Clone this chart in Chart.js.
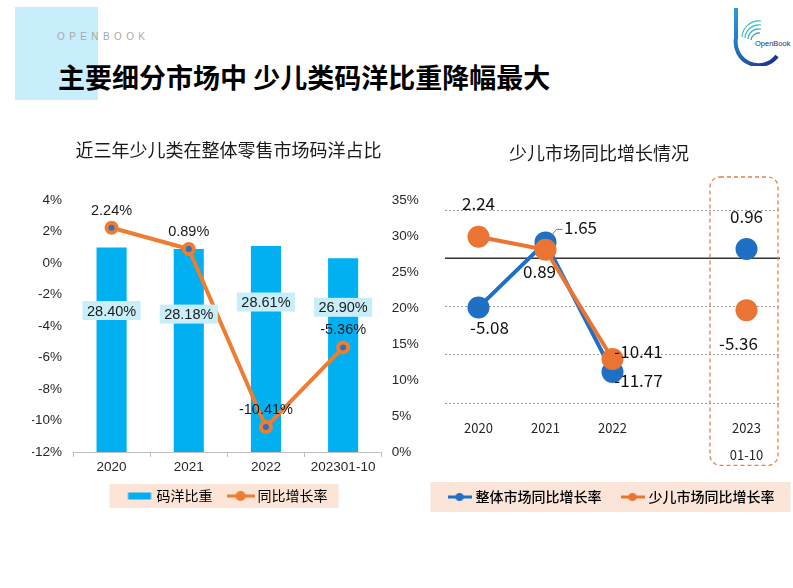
<!DOCTYPE html>
<html>
<head>
<meta charset="utf-8">
<script src="https://cdn.jsdelivr.net/npm/chart.js@4.4.1/dist/chart.umd.min.js"></script>
<style>
  html, body { margin: 0; padding: 0; background: #fff; }
  #page { position: relative; width: 793px; height: 588px; overflow: hidden; background: #fff; }
  #tag { position: absolute; left: 15px; top: 7px; width: 83px; height: 93px; background: #c8edfb; }
  #brand { position: absolute; left: 57px; top: 31px; font: 10px "Liberation Sans", Arial, sans-serif; letter-spacing: 4.4px; color: #a8a8a8; }
  #headline { position: absolute; left: 58px; top: 61px; font: bold 27px/32px "Noto Sans CJK SC", sans-serif; color: #000; white-space: nowrap; }
  #logo { position: absolute; left: 731px; top: 6px; }
  #left { position: absolute; left: 10px; top: 130px; }
  #right { position: absolute; left: 405px; top: 130px; }
</style>
</head>
<body>
<div id="page">
  <div id="tag"></div>
  <div id="brand">OPENBOOK</div>
  <div id="headline">主要细分市场中 少儿类码洋比重降幅最大</div>
  <svg id="logo" width="62" height="60" viewBox="0 0 62 60">
    <defs>
      <linearGradient id="lg" x1="0" y1="0" x2="1" y2="1">
        <stop offset="0" stop-color="#2b9be0"/>
        <stop offset="1" stop-color="#1a2c86"/>
      </linearGradient>
    </defs>
    <path d="M5 2 V32 A 23 23 0 0 0 46 50" fill="none" stroke="url(#lg)" stroke-width="4"/>
    <path d="M11 31 A 17 17 0 0 1 30 15" fill="none" stroke="#38bfc4" stroke-width="1.2"/>
    <path d="M14 32 A 14 14 0 0 1 30 19" fill="none" stroke="#38bfc4" stroke-width="1.2"/>
    <path d="M17 33 A 11 11 0 0 1 30 23" fill="none" stroke="#2fa7c9" stroke-width="1.2"/>
    <path d="M20 34 A 8 8 0 0 1 29 27" fill="none" stroke="#2f8fc9" stroke-width="1.2"/>
    <text x="24" y="40" font-size="7.5" font-family="Liberation Sans, Arial, sans-serif" fill="#1b2f6a">OpenBook</text>
  </svg>
  <canvas id="left" width="415" height="390"></canvas>
  <canvas id="right" width="388" height="390"></canvas>
</div>
<script>
// left chart: share of children's books in retail market
const shareYears = ['2020', '2021', '2022', '202301-10'];
const shareValues = [28.40, 28.18, 28.61, 26.90];
const shareGrowth = [2.24, 0.89, -10.41, -5.36];

// right chart: year on year growth
const growthYears = ['2020', '2021', '2022', '', ['2023', '01-10']];
const overallGrowth = [-5.08, 1.65, -11.77, null, 0.96];
const childGrowth = [2.24, 0.89, -10.41, null, -5.36];

const CJK = '"Noto Sans CJK SC", "Noto Sans", sans-serif';
const BAR_BLUE = '#00b0f0';
const LEFT_ORANGE = '#ed7d31';
const DOT_BLUE = '#2e6fc0';
const LINE_BLUE = '#1f6fc5';
const LINE_ORANGE = '#ea7433';

Chart.defaults.font.family = '"Liberation Sans", Arial, sans-serif';
Chart.defaults.color = '#262626';
Chart.defaults.animation = false;

function legendIcon(w, h, draw) {
  const c = document.createElement('canvas');
  c.width = w;
  c.height = h;
  draw(c.getContext('2d'), w, h);
  return c;
}

function lineIcon(color, w, r) {
  return legendIcon(w, 12, (g) => {
    g.strokeStyle = color;
    g.lineWidth = 3;
    g.beginPath();
    g.moveTo(0, 6);
    g.lineTo(w, 6);
    g.stroke();
    g.fillStyle = color;
    g.beginPath();
    g.arc(w / 2, 6, r, 0, Math.PI * 2);
    g.fill();
  });
}

const barIcon = legendIcon(26, 8, (g) => {
  g.fillStyle = BAR_BLUE;
  g.fillRect(1.5, 0.5, 23, 7);
});

// pink panel behind the legend, optional sideways shift of title / legend
const legendPanel = {
  id: 'legendPanel',
  afterLayout(chart, args, opts) {
    if (opts.shift) {
      chart.legend.left += opts.shift;
      chart.legend.right += opts.shift;
    }
    if (opts.titleShift) {
      chart.titleBlock.left += opts.titleShift;
      chart.titleBlock.right += opts.titleShift;
    }
  },
  beforeDraw(chart, args, opts) {
    const lg = chart.legend;
    const pad = lg.options.labels.padding;
    const total = lg.lineWidths[0];
    const start = (lg.left + pad + lg.right - total) / 2;
    const end = start + total - pad;
    const cy = lg.top + pad + 7;
    const ctx = chart.ctx;
    ctx.save();
    ctx.fillStyle = opts.color;
    ctx.fillRect(start - opts.padLeft, cy - opts.padY, end - start + opts.padLeft + opts.padRight, opts.padY * 2);
    ctx.restore();
  }
};

const leftLabels = {
  id: 'leftLabels',
  afterDatasetsDraw(chart, args, opts) {
    const ctx = chart.ctx;
    ctx.save();
    ctx.font = '14.5px "Liberation Sans", Arial, sans-serif';
    ctx.textAlign = 'center';
    ctx.textBaseline = 'middle';
    chart.getDatasetMeta(0).data.forEach((bar, i) => {
      const text = shareValues[i].toFixed(2) + '%';
      const w = ctx.measureText(text).width + 9;
      const y = bar.y + opts.barLabelDrop[i];
      ctx.fillStyle = '#c9eefa';
      ctx.fillRect(bar.x - w / 2, y - 9.5, w, 19);
      ctx.fillStyle = '#1a1a1a';
      ctx.fillText(text, bar.x, y + 1);
    });
    chart.getDatasetMeta(1).data.forEach((pt, i) => {
      ctx.fillStyle = '#1a1a1a';
      ctx.fillText(shareGrowth[i].toFixed(2) + '%', pt.x, pt.y - 17);
    });
    ctx.restore();
  }
};

const growthDecor = {
  id: 'growthDecor',
  beforeDatasetsDraw(chart, args, opts) {
    const {ctx, chartArea} = chart;
    const x = chart.scales.x;
    const y0 = chart.scales.y.getPixelForValue(0);
    ctx.save();
    ctx.strokeStyle = '#333';
    ctx.lineWidth = 1.5;
    ctx.beginPath();
    ctx.moveTo(chartArea.left, y0);
    ctx.lineTo(chartArea.right, y0);
    ctx.stroke();
    // dashed frame round the 2023 column
    const cx = x.getPixelForValue(4);
    ctx.strokeStyle = '#e0824d';
    ctx.lineWidth = 1.3;
    ctx.setLineDash([4, 3]);
    ctx.beginPath();
    ctx.roundRect(cx - 36.5, chartArea.top - 33, 68, chartArea.bottom - chartArea.top + 95, 10);
    ctx.stroke();
    ctx.restore();
  },
  afterDatasetsDraw(chart, args, opts) {
    const ctx = chart.ctx;
    ctx.save();
    ctx.font = '17px ' + CJK;
    ctx.textAlign = 'center';
    ctx.textBaseline = 'middle';
    ctx.fillStyle = '#111';
    opts.offsets.forEach((list, di) => {
      const values = chart.data.datasets[di].data;
      chart.getDatasetMeta(di).data.forEach((pt, i) => {
        if (values[i] == null) return;
        ctx.fillText(values[i].toFixed(2), pt.x + list[i][0], pt.y + list[i][1]);
      });
    });
    const lp = chart.getDatasetMeta(opts.leader[0]).data[opts.leader[1]];
    ctx.strokeStyle = '#777';
    ctx.lineWidth = 1;
    ctx.beginPath();
    ctx.moveTo(lp.x + 6, lp.y - 7);
    ctx.lineTo(lp.x + 11, lp.y - 13);
    ctx.lineTo(lp.x + 17, lp.y - 13);
    ctx.stroke();
    ctx.restore();
  }
};

new Chart(document.getElementById('left'), {
  data: {
    labels: shareYears,
    datasets: [
      {
        type: 'bar',
        label: '码洋比重',
        data: shareValues,
        yAxisID: 'y1',
        backgroundColor: BAR_BLUE,
        barPercentage: 0.39,
        categoryPercentage: 1,
        order: 1
      },
      {
        type: 'line',
        label: '同比增长率',
        data: shareGrowth,
        yAxisID: 'y',
        borderColor: LEFT_ORANGE,
        borderWidth: 4,
        pointRadius: 5,
        pointBorderWidth: 4,
        pointBorderColor: LEFT_ORANGE,
        pointBackgroundColor: DOT_BLUE,
        clip: false,
        order: 0
      }
    ]
  },
  options: {
    responsive: false,
    layout: { padding: { left: 22, right: 0, top: 0, bottom: 7 } },
    scales: {
      x: {
        grid: { drawOnChartArea: false, drawTicks: true, tickLength: 5, color: '#bfbfbf' },
        border: { display: true, color: '#bfbfbf' },
        ticks: { padding: 2, font: { size: 13.5 }, maxRotation: 0 },
        afterFit(s) { s.height = 19; }
      },
      y: {
        position: 'left',
        min: -12,
        max: 4,
        ticks: { stepSize: 2, padding: 11, font: { size: 13.5 }, callback: (v) => v + '%' },
        grid: { display: false, drawTicks: false },
        border: { display: false },
        afterFit(s) { s.width = 41; }
      },
      y1: {
        position: 'right',
        min: 0,
        max: 35,
        ticks: { stepSize: 5, padding: 10, font: { size: 13.5 }, callback: (v) => v + '%' },
        grid: { display: false, drawTicks: false },
        border: { display: false },
        afterFit(s) { s.width = 43.3; }
      }
    },
    plugins: {
      title: {
        display: true,
        text: '近三年少儿类在整体零售市场码洋占比',
        color: '#1a1a1a',
        font: { family: CJK, size: 18, weight: 'normal', lineHeight: 1.2 },
        padding: { top: 9.2, bottom: 39.2 }
      },
      legend: {
        position: 'bottom',
        labels: {
          usePointStyle: true,
          pointStyleWidth: 20,
          padding: 18,
          color: '#404040',
          font: { family: CJK, size: 14 },
          generateLabels: () => [
            { text: '码洋比重', pointStyle: barIcon, fillStyle: BAR_BLUE, strokeStyle: BAR_BLUE, lineWidth: 0, datasetIndex: 0 },
            { text: '同比增长率', pointStyle: lineIcon(LEFT_ORANGE, 28, 5), fillStyle: LEFT_ORANGE, strokeStyle: LEFT_ORANGE, lineWidth: 0, datasetIndex: 1 }
          ]
        }
      },
      tooltip: { enabled: false },
      legendPanel: { color: '#fce4d6', padLeft: 20, padRight: 11, padY: 12 },
      leftLabels: { barLabelDrop: [63, 65, 56, 49] }
    }
  },
  plugins: [legendPanel, leftLabels]
});

new Chart(document.getElementById('right'), {
  type: 'line',
  data: {
    labels: growthYears,
    datasets: [
      {
        label: '整体市场同比增长率',
        data: overallGrowth,
        borderColor: LINE_BLUE,
        backgroundColor: LINE_BLUE,
        borderWidth: 4,
        pointRadius: 11,
        pointBorderWidth: 0,
        spanGaps: false,
        clip: false,
        order: 1
      },
      {
        label: '少儿市场同比增长率',
        data: childGrowth,
        borderColor: LINE_ORANGE,
        backgroundColor: LINE_ORANGE,
        borderWidth: 4,
        pointRadius: 11,
        pointBorderWidth: 0,
        spanGaps: false,
        clip: false,
        order: 0
      }
    ]
  },
  options: {
    responsive: false,
    layout: { padding: { left: 0, right: 13, top: 0, bottom: 6 } },
    scales: {
      x: {
        offset: true,
        grid: { display: false, drawTicks: false },
        border: { display: false },
        ticks: { padding: 11.3, maxRotation: 0, autoSkip: false, color: '#262626', font: { family: CJK, size: 13, lineHeight: 2.1 } },
        afterFit(s) { s.height = 64.7; }
      },
      y: {
        min: -15,
        max: 5,
        ticks: { display: false, stepSize: 5 },
        grid: {
          drawTicks: false,
          lineWidth: 1,
          color: (c) => (c.tick && c.tick.value === 0 ? 'rgba(0,0,0,0)' : '#9a9a9a')
        },
        border: { display: false, dash: [2, 2] },
        afterFit(s) { s.width = 40; }
      }
    },
    plugins: {
      title: {
        display: true,
        text: '少儿市场同比增长情况',
        color: '#1a1a1a',
        font: { family: CJK, size: 18, weight: 'normal', lineHeight: 1.2 },
        padding: { top: 11.9, bottom: 46.5 }
      },
      legend: {
        position: 'bottom',
        labels: {
          usePointStyle: true,
          pointStyleWidth: 18,
          padding: 22,
          color: '#1a1a1a',
          font: { family: CJK, size: 14, weight: '500' },
          generateLabels: () => [
            { text: '整体市场同比增长率', pointStyle: lineIcon(LINE_BLUE, 24, 4), fillStyle: LINE_BLUE, strokeStyle: LINE_BLUE, lineWidth: 0, datasetIndex: 0 },
            { text: '少儿市场同比增长率', pointStyle: lineIcon(LINE_ORANGE, 24, 4), fillStyle: LINE_ORANGE, strokeStyle: LINE_ORANGE, lineWidth: 0, datasetIndex: 1 }
          ]
        }
      },
      tooltip: { enabled: false },
      legendPanel: { color: '#fbe4d8', padLeft: 20, padRight: 16, padY: 15, shift: 20, titleShift: 6.5 },
      growthDecor: {
        offsets: [
          [[11, 20], [35, -15], [26, 8], null, [0, -32]],
          [[0, -33], [-6, 22], [26, -7], null, [-8, 33]]
        ],
        leader: [0, 1]
      }
    }
  },
  plugins: [legendPanel, growthDecor]
});
</script>
</body>
</html>
